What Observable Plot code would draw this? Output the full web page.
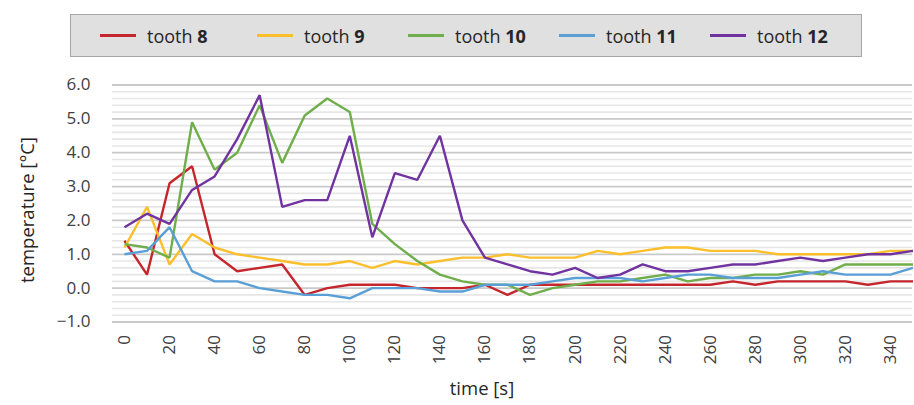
<!DOCTYPE html>
<html><head><meta charset="utf-8">
<script src="https://cdn.jsdelivr.net/npm/d3@7"></script>
<script src="https://cdn.jsdelivr.net/npm/@observablehq/plot@0.6"></script>
<style>
body{margin:0;background:#fff;font-family:"Open Sans",sans-serif;color:#3a3a3a;}
#wrap{position:relative;width:914px;height:405px;overflow:hidden;background:#fff}
#legend{position:absolute;left:70px;top:14px;width:790px;height:41px;background:#e0e0e0;border:1px solid #a6a6a6;display:flex;align-items:center;box-sizing:content-box;padding-left:0}
.item{display:flex;align-items:center;width:152px;font-size:18px;color:#262626;white-space:nowrap}
.item:first-child{width:158px;margin-left:29px}
.sw{display:inline-block;width:36px;height:2.5px;margin-right:11px}
#chart{position:absolute;left:0;top:60px}
#xlab{position:absolute;top:375px;left:0;width:964px;text-align:center;font-size:18.5px;color:#262626}
#ylab{position:absolute;left:26px;top:210px;transform:translate(-50%,-50%) rotate(-90deg);font-size:18.5px;color:#262626;white-space:nowrap}
</style>
</head><body>
<div id="wrap">
<div id="legend"></div>
<div id="chart"></div>
<div id="xlab">time [s]</div>
<div id="ylab">temperature [°C]</div>
</div>
<script>
const time = [0,10,20,30,40,50,60,70,80,90,100,110,120,130,140,150,160,170,180,190,200,210,220,230,240,250,260,270,280,290,300,310,320,330,340,350];
const seriesNames = ["8","9","10","11","12"];
const colors = ["#c4262b","#fbbf2c","#6fae4a","#5a9fd6","#7033a0"];
const tooth8  = [1.4,0.4,3.1,3.6,1.0,0.5,0.6,0.7,-0.2,0.0,0.1,0.1,0.1,0.0,0.0,0.0,0.1,-0.2,0.1,0.1,0.1,0.1,0.1,0.1,0.1,0.1,0.1,0.2,0.1,0.2,0.2,0.2,0.2,0.1,0.2,0.2];
const tooth9  = [1.2,2.4,0.7,1.6,1.2,1.0,0.9,0.8,0.7,0.7,0.8,0.6,0.8,0.7,0.8,0.9,0.9,1.0,0.9,0.9,0.9,1.1,1.0,1.1,1.2,1.2,1.1,1.1,1.1,1.0,1.0,1.0,1.0,1.0,1.1,1.1];
const tooth10 = [1.3,1.2,0.9,4.9,3.5,4.0,5.4,3.7,5.1,5.6,5.2,1.9,1.3,0.8,0.4,0.2,0.1,0.1,-0.2,0.0,0.1,0.2,0.2,0.3,0.4,0.2,0.3,0.3,0.4,0.4,0.5,0.4,0.7,0.7,0.7,0.7];
const tooth11 = [1.0,1.1,1.8,0.5,0.2,0.2,0.0,-0.1,-0.2,-0.2,-0.3,0.0,0.0,0.0,-0.1,-0.1,0.1,0.1,0.1,0.2,0.3,0.3,0.3,0.2,0.3,0.4,0.4,0.3,0.3,0.3,0.4,0.5,0.4,0.4,0.4,0.6];
const tooth12 = [1.8,2.2,1.9,2.9,3.3,4.4,5.7,2.4,2.6,2.6,4.5,1.5,3.4,3.2,4.5,2.0,0.9,0.7,0.5,0.4,0.6,0.3,0.4,0.7,0.5,0.5,0.6,0.7,0.7,0.8,0.9,0.8,0.9,1.0,1.0,1.1];
const xTickLabels = [0,20,40,60,80,100,120,140,160,180,200,220,240,260,280,300,320,340];
const yTickLabels = [-1,0,1,2,3,4,5,6];

const seriesValues = [tooth8, tooth9, tooth10, tooth11, tooth12];
const data = [];
seriesNames.forEach((name, i) => {
  seriesValues[i].forEach((v, j) => data.push({tooth: name, time: time[j], temp: v}));
});

// legend
const legend = document.getElementById("legend");
seriesNames.forEach((name, i) => {
  const it = document.createElement("div");
  it.className = "item";
  it.innerHTML = `<span class="sw" style="background:${colors[i]}"></span><span>tooth <b>${name}</b></span>`;
  legend.appendChild(it);
});

const minor = d3.range(-10, 61, 2).map(v => v / 10).filter(v => Math.abs(v - Math.round(v)) > 1e-9);

const chart = Plot.plot({
  width: 914,
  height: 345,
  marginTop: 24.5,
  marginBottom: 83.5,
  marginLeft: 112,
  marginRight: 2,
  style: {fontFamily: "'Open Sans', sans-serif", fontSize: "17px", color: "#404040", background: "transparent"},
  x: {domain: [0, 350], range: [124, 912.5]},
  y: {domain: [-1, 6]},
  color: {domain: seriesNames, range: colors},
  marks: [
    Plot.ruleY(minor, {stroke: "#e6e6e6", strokeWidth: 1.6}),
    Plot.ruleY(yTickLabels, {stroke: "#c9c9c9", strokeWidth: 1.8}),
    Plot.axisY(yTickLabels, {tickSize: 0, tickPadding: 22, tickFormat: d3.format(".1f"), label: null, fontSize: 17}),
    Plot.axisX(xTickLabels, {tickSize: 0, tickPadding: 13, tickRotate: -90, label: null, fontSize: 17}),
    Plot.line(data, {x: "time", y: "temp", z: "tooth", stroke: "tooth", strokeWidth: 2.4, strokeLinejoin: "miter", strokeLinecap: "butt"})
  ]
});
document.getElementById("chart").appendChild(chart);
</script>
</body></html>
